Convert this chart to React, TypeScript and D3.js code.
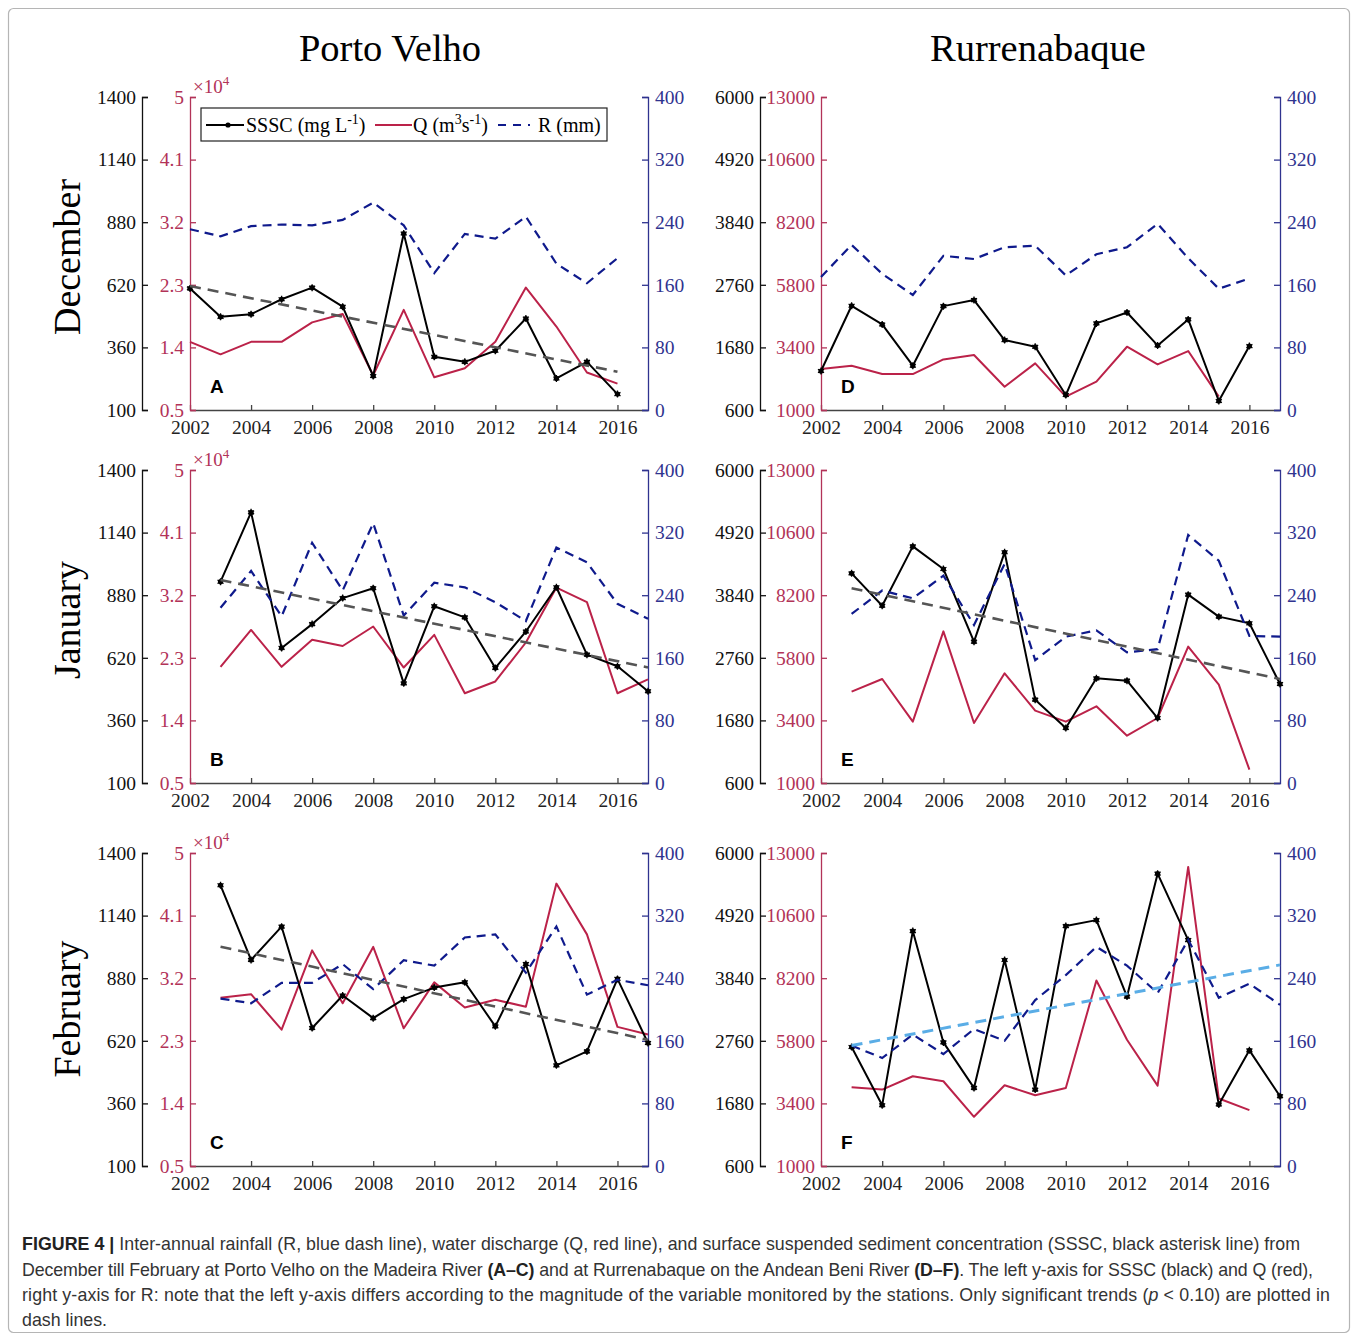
import { useEffect, useRef } from "react";
import * as d3 from "d3";

const W = 1357;
const H = 1336;

// years on the x axis
const decYears = [2002, 2003, 2004, 2005, 2006, 2007, 2008, 2009, 2010, 2011, 2012, 2013, 2014, 2015, 2016];
const janFebYears = [2003, 2004, 2005, 2006, 2007, 2008, 2009, 2010, 2011, 2012, 2013, 2014, 2015, 2016, 2017];
const yearTicks = [2002, 2004, 2006, 2008, 2010, 2012, 2014, 2016];

// tick labels
const ssscTicksPV = [100, 360, 620, 880, 1140, 1400];
const qTicksPV = [0.5, 1.4, 2.3, 3.2, 4.1, 5];
const ssscTicksRB = [600, 1680, 2760, 3840, 4920, 6000];
const qTicksRB = [1000, 3400, 5800, 8200, 10600, 13000];
const rTicks = [0, 80, 160, 240, 320, 400];

// Porto Velho, December (A)  -- Q in 10^4 m3/s
const ssscA = [605, 487, 498, 560, 608, 529, 241, 833, 321, 300, 346, 480, 231, 300, 166];
const qA = [1.48, 1.3, 1.48, 1.48, 1.76, 1.88, 1.0, 1.94, 0.97, 1.1, 1.48, 2.26, 1.7, 1.04, 0.88];
const rA = [231, 222, 235, 237, 236, 243, 265, 236, 175, 225, 219, 247, 187, 162, 194];
const trendYearsA = [2002, 2016];
const trendA = [615, 259];

// Porto Velho, January (B)
const ssscB = [936, 1224, 661, 760, 868, 909, 514, 834, 788, 578, 729, 913, 633, 585, 481];
const qB = [2.17, 2.7, 2.17, 2.56, 2.47, 2.75, 2.16, 2.63, 1.79, 1.96, 2.52, 3.31, 3.1, 1.79, 1.99];
const rB = [224, 271, 213, 307, 246, 332, 214, 256, 250, 231, 207, 301, 282, 229, 210];
const trendYearsB = [2003, 2017];
const trendB = [943, 580];

// Porto Velho, February (C)
const ssscC = [1266, 956, 1094, 673, 808, 714, 793, 841, 863, 680, 939, 518, 576, 877, 611];
const qC = [2.92, 2.97, 2.46, 3.6, 2.84, 3.65, 2.48, 3.14, 2.78, 2.89, 2.79, 4.56, 3.83, 2.5, 2.39];
const rC = [214, 208, 234, 234, 258, 226, 263, 256, 292, 296, 247, 306, 219, 238, 231];
const trendYearsC = [2003, 2017];
const trendC = [1011, 624];

// Rurrenabaque, December (D)
const ssscD = [1272, 2398, 2076, 1364, 2392, 2496, 1806, 1691, 858, 2094, 2283, 1714, 2163, 755, 1703];
const qD = [2570, 2698, 2379, 2379, 2940, 3106, 1894, 2787, 1511, 2085, 3426, 2749, 3260, 1511, null];
const rD = [170, 211, 174, 147, 197, 193, 208, 210, 172, 199, 208, 238, 194, 155, 168];

// Rurrenabaque, January (E)
const ssscE = [4217, 3659, 4683, 4292, 3038, 4580, 2038, 1549, 2406, 2366, 1721, 3849, 3470, 3355, 2308];
const qE = [4502, 4987, 3352, 6815, 3300, 5205, 3773, 3352, 3939, 2815, 3492, 6227, 4770, 1511, null];
const rE = [216, 246, 236, 265, 202, 280, 157, 187, 195, 167, 171, 317, 284, 188, 187];
const trendYearsE = [2003, 2017];
const trendE = [3959, 2394];

// Rurrenabaque, February (F)
const ssscF = [2652, 1649, 4653, 2732, 1947, 4154, 1918, 4739, 4842, 3523, 5644, 4498, 1660, 2595, 1804];
const qF = [4019, 3930, 4440, 4249, 2886, 4096, 3714, 3994, 8109, 5841, 4083, 12466, 3586, 3140, null];
const rF = [154, 138, 168, 143, 175, 160, 212, 244, 280, 256, 221, 289, 215, 233, 206];
const trendYearsF = [2003, 2017];
const trendF = [154, 257];

const RED = "#bb2249";
const RED_AX = "#b23358";
const BLUE = "#0f1a8c";
const BLUE_AX = "#2f338f";
const GREY_AX = "#444";
const SERIF = "'Liberation Serif', 'Times New Roman', serif";
const SANS = "'Liberation Sans', Arial, sans-serif";
const TICK_FS = 19.5;

const cols = [
  { black: 142, x0: 190, x1: 648 },
  { black: 760, x0: 821, x1: 1280 },
];
const rows = [
  { top: 97, bottom: 410 },
  { top: 470, bottom: 783 },
  { top: 853, bottom: 1166 },
];

type Trend = { years: number[]; values: number[]; axis: "sssc" | "r"; color: string };
type Panel = {
  letter: string;
  col: number;
  row: number;
  years: number[];
  sssc: (number | null)[];
  q: (number | null)[];
  r: (number | null)[];
  ssscTicks: number[];
  qTicks: number[];
  trend?: Trend;
  legend?: boolean;
  exponent?: boolean;
};

const panels: Panel[] = [
  { letter: "A", col: 0, row: 0, years: decYears, sssc: ssscA, q: qA, r: rA, ssscTicks: ssscTicksPV, qTicks: qTicksPV,
    trend: { years: trendYearsA, values: trendA, axis: "sssc", color: "#555" }, legend: true, exponent: true },
  { letter: "B", col: 0, row: 1, years: janFebYears, sssc: ssscB, q: qB, r: rB, ssscTicks: ssscTicksPV, qTicks: qTicksPV,
    trend: { years: trendYearsB, values: trendB, axis: "sssc", color: "#555" }, exponent: true },
  { letter: "C", col: 0, row: 2, years: janFebYears, sssc: ssscC, q: qC, r: rC, ssscTicks: ssscTicksPV, qTicks: qTicksPV,
    trend: { years: trendYearsC, values: trendC, axis: "sssc", color: "#555" }, exponent: true },
  { letter: "D", col: 1, row: 0, years: decYears, sssc: ssscD, q: qD, r: rD, ssscTicks: ssscTicksRB, qTicks: qTicksRB },
  { letter: "E", col: 1, row: 1, years: janFebYears, sssc: ssscE, q: qE, r: rE, ssscTicks: ssscTicksRB, qTicks: qTicksRB,
    trend: { years: trendYearsE, values: trendE, axis: "sssc", color: "#555" } },
  { letter: "F", col: 1, row: 2, years: janFebYears, sssc: ssscF, q: qF, r: rF, ssscTicks: ssscTicksRB, qTicks: qTicksRB,
    trend: { years: trendYearsF, values: trendF, axis: "r", color: "#5aade6" } },
];

function styleAxis(sel: d3.Selection<SVGGElement, unknown, null, undefined>, color: string, textColor = color) {
  sel.attr("font-family", SERIF).attr("font-size", TICK_FS);
  sel.select(".domain").attr("stroke", color).attr("stroke-width", 1.3);
  sel.selectAll(".tick line").attr("stroke", color).attr("stroke-width", 1.3);
  sel.selectAll(".tick text").attr("fill", textColor);
}

function drawPanel(svg: d3.Selection<SVGGElement, unknown, null, undefined>, p: Panel) {
  const c = cols[p.col];
  const rw = rows[p.row];
  const x = d3.scaleLinear().domain([2002, 2017]).range([c.x0, c.x1]);
  const yS = d3.scaleLinear().domain(d3.extent(p.ssscTicks) as [number, number]).range([rw.bottom, rw.top]);
  const yQ = d3.scaleLinear().domain(d3.extent(p.qTicks) as [number, number]).range([rw.bottom, rw.top]);
  const yR = d3.scaleLinear().domain(d3.extent(rTicks) as [number, number]).range([rw.bottom, rw.top]);
  const fmt = (d: d3.NumberValue) => String(d);

  const g = svg.append("g");

  // x axis
  const gx = g.append("g").attr("transform", `translate(0,${rw.bottom})`)
    .call(d3.axisBottom(x).tickValues(yearTicks).tickFormat(fmt).tickSizeInner(-5).tickSizeOuter(0).tickPadding(10));
  styleAxis(gx, GREY_AX, "#222");

  // black (SSSC) axis, offset to the left
  const gs = g.append("g").attr("transform", `translate(${c.black},0)`)
    .call(d3.axisLeft(yS).tickValues(p.ssscTicks).tickFormat(fmt).tickSizeInner(-6).tickSizeOuter(-6).tickPadding(6));
  styleAxis(gs, "#111", "#111");

  // red (Q) axis
  const gq = g.append("g").attr("transform", `translate(${c.x0},0)`)
    .call(d3.axisLeft(yQ).tickValues(p.qTicks).tickFormat(fmt).tickSizeInner(-6).tickSizeOuter(-6).tickPadding(6));
  styleAxis(gq, RED_AX);

  // blue (R) axis
  const gr = g.append("g").attr("transform", `translate(${c.x1},0)`)
    .call(d3.axisRight(yR).tickValues(rTicks).tickFormat(fmt).tickSizeInner(-6).tickSizeOuter(-6).tickPadding(7));
  styleAxis(gr, BLUE_AX);

  if (p.exponent) {
    const t = g.append("text").attr("x", c.x0 + 3).attr("y", rw.top - 4)
      .attr("font-family", SERIF).attr("font-size", 19).attr("fill", RED_AX);
    t.append("tspan").text("×10");
    t.append("tspan").attr("font-size", 13).attr("dy", -8).text("4");
  }

  const idx = p.years.map((_, i) => i);

  // Q line
  const lineQ = d3.line<number>().defined(i => p.q[i] != null).x(i => x(p.years[i])).y(i => yQ(p.q[i] as number));
  g.append("path").attr("d", lineQ(idx)).attr("fill", "none").attr("stroke", RED).attr("stroke-width", 2).attr("stroke-linejoin", "round");

  // SSSC line with asterisk markers
  const lineS = d3.line<number>().defined(i => p.sssc[i] != null).x(i => x(p.years[i])).y(i => yS(p.sssc[i] as number));
  g.append("path").attr("d", lineS(idx)).attr("fill", "none").attr("stroke", "#000").attr("stroke-width", 2).attr("stroke-linejoin", "round");
  const star = d3.symbol(d3.symbolAsterisk, 34);
  const mk = g.append("g").selectAll("g").data(idx.filter(i => p.sssc[i] != null)).join("g")
    .attr("transform", i => `translate(${x(p.years[i])},${yS(p.sssc[i] as number)})`);
  mk.append("path").attr("d", star()).attr("fill", "none").attr("stroke", "#000").attr("stroke-width", 1.3);
  mk.append("circle").attr("r", 2.6).attr("fill", "#000");

  // R dashed line
  const lineR = d3.line<number>().defined(i => p.r[i] != null).x(i => x(p.years[i])).y(i => yR(p.r[i] as number));
  g.append("path").attr("d", lineR(idx)).attr("fill", "none").attr("stroke", BLUE).attr("stroke-width", 2.2)
    .attr("stroke-dasharray", "9,6");

  // significant trend
  if (p.trend) {
    const tr = p.trend;
    const yT = tr.axis === "sssc" ? yS : yR;
    const lineT = d3.line<number>().x(i => x(tr.years[i])).y(i => yT(tr.values[i]));
    g.append("path").attr("d", lineT(tr.years.map((_, i) => i))).attr("fill", "none").attr("stroke", tr.color)
      .attr("stroke-width", tr.axis === "r" ? 3 : 2.6).attr("stroke-dasharray", "11,7");
  }

  // panel letter
  g.append("text").attr("x", c.x0 + 20).attr("y", rw.bottom - 17).attr("font-family", SANS)
    .attr("font-weight", "bold").attr("font-size", 19).attr("fill", "#000").text(p.letter);

  if (p.legend) {
    const lg = g.append("g").attr("font-family", SERIF).attr("font-size", 20).attr("fill", "#000");
    const top = 108;
    lg.append("rect").attr("x", 201).attr("y", top).attr("width", 406).attr("height", 33)
      .attr("fill", "#fff").attr("stroke", "#222").attr("stroke-width", 1.2);
    const ly = top + 17;
    lg.append("line").attr("x1", 206).attr("x2", 244).attr("y1", ly).attr("y2", ly).attr("stroke", "#000").attr("stroke-width", 2);
    lg.append("circle").attr("cx", 228).attr("cy", ly).attr("r", 2.6).attr("fill", "#000");
    const t1 = lg.append("text").attr("x", 246).attr("y", ly + 7);
    t1.append("tspan").text("SSSC (mg L");
    t1.append("tspan").attr("font-size", 14).attr("dy", -8).text("-1");
    t1.append("tspan").attr("dy", 8).text(")");
    lg.append("line").attr("x1", 375).attr("x2", 412).attr("y1", ly).attr("y2", ly).attr("stroke", RED).attr("stroke-width", 2);
    const t2 = lg.append("text").attr("x", 413).attr("y", ly + 7);
    t2.append("tspan").text("Q (m");
    t2.append("tspan").attr("font-size", 14).attr("dy", -8).text("3");
    t2.append("tspan").attr("dy", 8).text("s");
    t2.append("tspan").attr("font-size", 14).attr("dy", -8).text("-1");
    t2.append("tspan").attr("dy", 8).text(")");
    lg.append("line").attr("x1", 498).attr("x2", 530).attr("y1", ly).attr("y2", ly).attr("stroke", BLUE)
      .attr("stroke-width", 2.2).attr("stroke-dasharray", "8,7");
    lg.append("text").attr("x", 538).attr("y", ly + 7).text("R (mm)");
  }
}

export default function App() {
  const ref = useRef<SVGSVGElement>(null);

  useEffect(() => {
    const svg = d3.select(ref.current as SVGSVGElement);
    const plots = svg.append("g");
    panels.forEach(p => drawPanel(plots, p));
    return () => {
      plots.remove();
    };
  }, []);

  const rowLabels = [
    { text: "December", y: 257 },
    { text: "January", y: 620 },
    { text: "February", y: 1009 },
  ];

  return (
    <svg ref={ref} width={W} height={H} style={{ position: "absolute", left: 0, top: 0, background: "#fff" }}>
      <rect x={8.5} y={8.5} width={1341} height={1324} rx={5} fill="#fff" stroke="#b5b5b5" strokeWidth={1.2} />
      <text x={390} y={61} textAnchor="middle" fontFamily={SERIF} fontSize={38.5} fill="#000">Porto Velho</text>
      <text x={1038} y={61} textAnchor="middle" fontFamily={SERIF} fontSize={38.5} fill="#000">Rurrenabaque</text>
      {rowLabels.map(r => (
        <text key={r.text} transform={`translate(80,${r.y}) rotate(-90)`} textAnchor="middle"
          fontFamily={SERIF} fontSize={38} fill="#000">{r.text}</text>
      ))}
      <g fontFamily={SANS} fontSize={17.8} fill="#333">
        <text x={22} y={1250} textLength={1278} lengthAdjust="spacing">
          <tspan fontWeight="bold" fill="#222">FIGURE 4 |</tspan>
          <tspan> Inter-annual rainfall (R, blue dash line), water discharge (Q, red line), and surface suspended sediment concentration (SSSC, black asterisk line) from</tspan>
        </text>
        <text x={22} y={1276} textLength={1291} lengthAdjust="spacing">
          <tspan>December till February at Porto Velho on the Madeira River </tspan>
          <tspan fontWeight="bold" fill="#222">(A–C)</tspan>
          <tspan> and at Rurrenabaque on the Andean Beni River </tspan>
          <tspan fontWeight="bold" fill="#222">(D–F)</tspan>
          <tspan>. The left y-axis for SSSC (black) and Q (red),</tspan>
        </text>
        <text x={22} y={1301} textLength={1308} lengthAdjust="spacing">
          <tspan>right y-axis for R: note that the left y-axis differs according to the magnitude of the variable monitored by the stations. Only significant trends (</tspan>
          <tspan fontStyle="italic">p</tspan>
          <tspan> &lt; 0.10) are plotted in</tspan>
        </text>
        <text x={22} y={1326}>dash lines.</text>
      </g>
    </svg>
  );
}
